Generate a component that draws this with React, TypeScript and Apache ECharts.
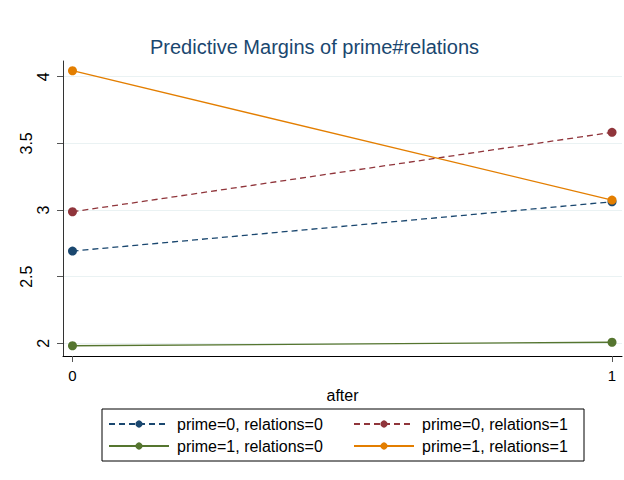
import { useEffect, useRef } from "react";
import * as echarts from "echarts";

// Predictive margins by after (0/1) for each prime x relations cell
const afterValues = [0, 1];
const seriesNames = [
  "prime=0, relations=0",
  "prime=0, relations=1",
  "prime=1, relations=0",
  "prime=1, relations=1",
];
const margins00 = [2.692, 3.062];
const margins01 = [2.987, 3.583];
const margins10 = [1.982, 2.008];
const margins11 = [4.045, 3.075];

const yTicks = [2, 2.5, 3, 3.5, 4];
const yLabelsNear = [2, 3, 4];
const yLabelsFar = [2.5, 3.5];
const xTicks = [0, 1];

const colors = ["#1a476f", "#90353b", "#55752f", "#e37e00"];
const FONT = "Liberation Sans, Arial, sans-serif";

export default function App() {
  const ref = useRef<HTMLDivElement>(null);

  useEffect(() => {
    if (!ref.current) return;
    const chart = echarts.init(ref.current, null, { renderer: "svg" });

    const allMargins = [margins00, margins01, margins10, margins11];
    const dashed = [true, true, false, false];

    const series = allMargins.map((vals, i) => ({
      name: seriesNames[i],
      type: "line",
      data: afterValues.map((x, j) => [x, vals[j]]),
      symbol: "circle",
      symbolSize: 9,
      showSymbol: true,
      itemStyle: { color: colors[i] },
      lineStyle: {
        color: colors[i],
        width: 1.3,
        type: dashed[i] ? [6, 4] : "solid",
      },
      z: 3 + i,
    }));

    const yBase = {
      type: "value",
      position: "left",
      min: 1.905,
      max: 4.118,
    };

    const legendText = {
      color: "#000",
      fontSize: 16,
      lineHeight: 16,
      padding: [0, 0, 0, 3],
      fontFamily: FONT,
    };

    chart.setOption({
      animation: false,
      backgroundColor: "#ffffff",
      textStyle: { fontFamily: FONT },
      title: {
        text: "Predictive Margins of prime#relations",
        left: 150,
        top: 37,
        padding: 0,
        textStyle: {
          color: "#1a476f",
          fontSize: 20,
          fontWeight: "normal",
          fontFamily: FONT,
        },
      },
      grid: { left: 63, top: 61, width: 559, height: 295, containLabel: false },
      xAxis: {
        type: "value",
        min: -0.0176,
        max: 1.0185,
        name: "after",
        nameLocation: "middle",
        nameGap: 28,
        nameTextStyle: { color: "#000", fontSize: 16, fontFamily: FONT },
        axisLine: { show: true, onZero: false, lineStyle: { color: "#000", width: 1 } },
        axisTick: {
          show: true,
          length: 6,
          customValues: xTicks,
          lineStyle: { color: "#555" },
        },
        axisLabel: {
          customValues: xTicks,
          color: "#000",
          fontSize: 15,
          margin: 12,
          fontFamily: FONT,
        },
        splitLine: { show: false },
      },
      yAxis: [
        {
          ...yBase,
          axisLine: { show: true, onZero: false, lineStyle: { color: "#333", width: 1 } },
          axisTick: {
            show: true,
            length: 6,
            customValues: yTicks,
            lineStyle: { color: "#555" },
          },
          axisLabel: {
            customValues: yLabelsNear,
            rotate: 90,
            color: "#000",
            fontSize: 16,
            margin: 12,
            fontFamily: FONT,
          },
          splitLine: { show: true, lineStyle: { color: "#eaf2f3", width: 1 } },
        },
        {
          ...yBase,
          axisLine: { show: false },
          axisTick: { show: false },
          axisLabel: {
            customValues: yLabelsFar,
            rotate: 90,
            color: "#000",
            fontSize: 16,
            margin: 29,
            fontFamily: FONT,
          },
          splitLine: { show: false },
        },
      ],
      legend: [
        {
          data: [seriesNames[0], seriesNames[2]],
          orient: "vertical",
          left: 108,
          top: 416,
          itemWidth: 60,
          itemHeight: 9,
          itemGap: 6,
          padding: 0,
          textStyle: legendText,
        },
        {
          data: [seriesNames[1], seriesNames[3]],
          orient: "vertical",
          left: 353,
          top: 416,
          itemWidth: 60,
          itemHeight: 9,
          itemGap: 6,
          padding: 0,
          textStyle: legendText,
        },
      ],
      graphic: [
        {
          type: "rect",
          shape: { x: 102, y: 409, width: 482, height: 52 },
          style: { fill: "none", stroke: "#000", lineWidth: 1 },
          silent: true,
        },
      ],
      series,
    });

    return () => chart.dispose();
  }, []);

  return (
    <div
      ref={ref}
      style={{ position: "fixed", left: 0, top: 0, width: 624, height: 480 }}
    />
  );
}
